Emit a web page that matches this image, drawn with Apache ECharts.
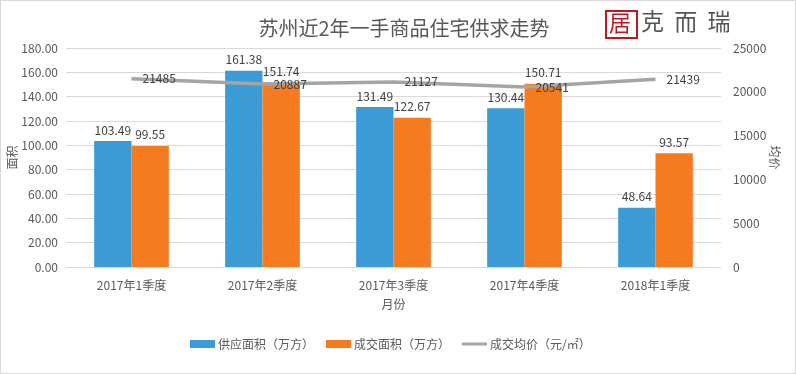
<!DOCTYPE html>
<html><head><meta charset="utf-8">
<script src="https://cdn.jsdelivr.net/npm/echarts@6/dist/echarts.min.js"></script>
<style>html,body{margin:0;padding:0;background:#fff}#c{width:796px;height:374px;box-sizing:border-box;border:1px solid #d9d9d9}</style>
</head><body><div id="c"></div>
<script>
const categories = ['2017年1季度','2017年2季度','2017年3季度','2017年4季度','2018年1季度'];
const supplyArea = [103.49, 161.38, 131.49, 130.44, 48.64];
const dealArea = [99.55, 151.74, 122.67, 150.71, 93.57];
const avgPrice = [21485, 20887, 21127, 20541, 21439];
const leftTicks = [0, 20, 40, 60, 80, 100, 120, 140, 160, 180];
const rightTicks = [0, 5000, 10000, 15000, 20000, 25000];

const font = '"Microsoft YaHei","Noto Sans CJK SC",sans-serif';
const chart = echarts.init(document.getElementById('c'));
chart.setOption({
  animation: false,
  textStyle: {fontFamily: font},
  title: {text: '苏州近2年一手商品住宅供求走势', left: 398, textAlign: 'center', top: 12,
    textStyle: {fontSize: 20, fontWeight: 'normal', color: '#595959', fontFamily: font}},
  graphic: [
    {type: 'rect', left: 604, top: 9, shape: {width: 31, height: 27}, style: {fill: '#fff', stroke: '#c0161e', lineWidth: 2}},
    {type: 'text', left: 608, top: 11, style: {text: '居', fill: '#c0161e', font: '22px ' + font}},
    {type: 'text', left: 640, top: 9, style: {text: '克  而  瑞', fill: '#555', font: '23px ' + font}}
  ],
  legend: {top: 332, left: 184, itemWidth: 25, itemHeight: 8, itemGap: 12,
    textStyle: {color: '#595959', fontSize: 12, padding: [0, 0, 0, -2]},
    data: [{name: '供应面积（万方）', icon: 'rect'}, {name: '成交面积（万方）', icon: 'rect'},
      {name: '成交均价（元/㎡）', icon: 'path://M0,0h25v3H0z'}]},
  grid: {left: 65, right: 74, top: 47, bottom: 106, outerBoundsMode: 'none', containLabel: false},
  xAxis: {type: 'category', data: categories, name: '月份', nameLocation: 'middle', nameGap: 31,
    nameMoveOverlap: false,
    nameTextStyle: {color: '#595959', fontSize: 12},
    axisLine: {lineStyle: {color: '#d9d9d9'}}, axisTick: {show: false},
    axisLabel: {color: '#595959', fontSize: 12, margin: 12}},
  yAxis: [
    {type: 'value', min: 0, max: 180, interval: 20, name: '面积', nameLocation: 'middle', nameGap: 48,
      nameMoveOverlap: false,
      nameTextStyle: {color: '#595959', fontSize: 12},
      axisLabel: {color: '#595959', fontSize: 12, formatter: v => v.toFixed(2)},
      axisLine: {show: false}, axisTick: {show: false},
      splitLine: {lineStyle: {color: '#d9d9d9'}}},
    {type: 'value', min: 0, max: 25000, interval: 5000, name: '均价', nameLocation: 'middle', nameGap: 48,
      nameRotate: -90, nameMoveOverlap: false,
      nameTextStyle: {color: '#595959', fontSize: 12},
      axisLabel: {color: '#595959', fontSize: 12, margin: 12, formatter: v => String(v)},
      axisLine: {show: false}, axisTick: {show: false}, splitLine: {show: false}}
  ],
  series: [
    {name: '供应面积（万方）', type: 'bar', data: supplyArea, barGap: '0%', barCategoryGap: '43%',
      itemStyle: {color: '#3a9bd5'},
      label: {show: true, position: 'top', color: '#404040', fontSize: 12, formatter: p => p.value.toFixed(2)}},
    {name: '成交面积（万方）', type: 'bar', data: dealArea,
      itemStyle: {color: '#f47b20'},
      label: {show: true, position: 'top', color: '#404040', fontSize: 12, formatter: p => p.value.toFixed(2)}},
    {name: '成交均价（元/㎡）', type: 'line', yAxisIndex: 1, data: avgPrice, symbol: 'circle', symbolSize: 0,
      showSymbol: true,
      lineStyle: {color: '#a5a5a5', width: 3.5}, itemStyle: {color: '#a5a5a5'},
      label: {show: true, position: 'right', distance: 11, color: '#404040', fontSize: 12}}
  ]
});
</script></body></html>
